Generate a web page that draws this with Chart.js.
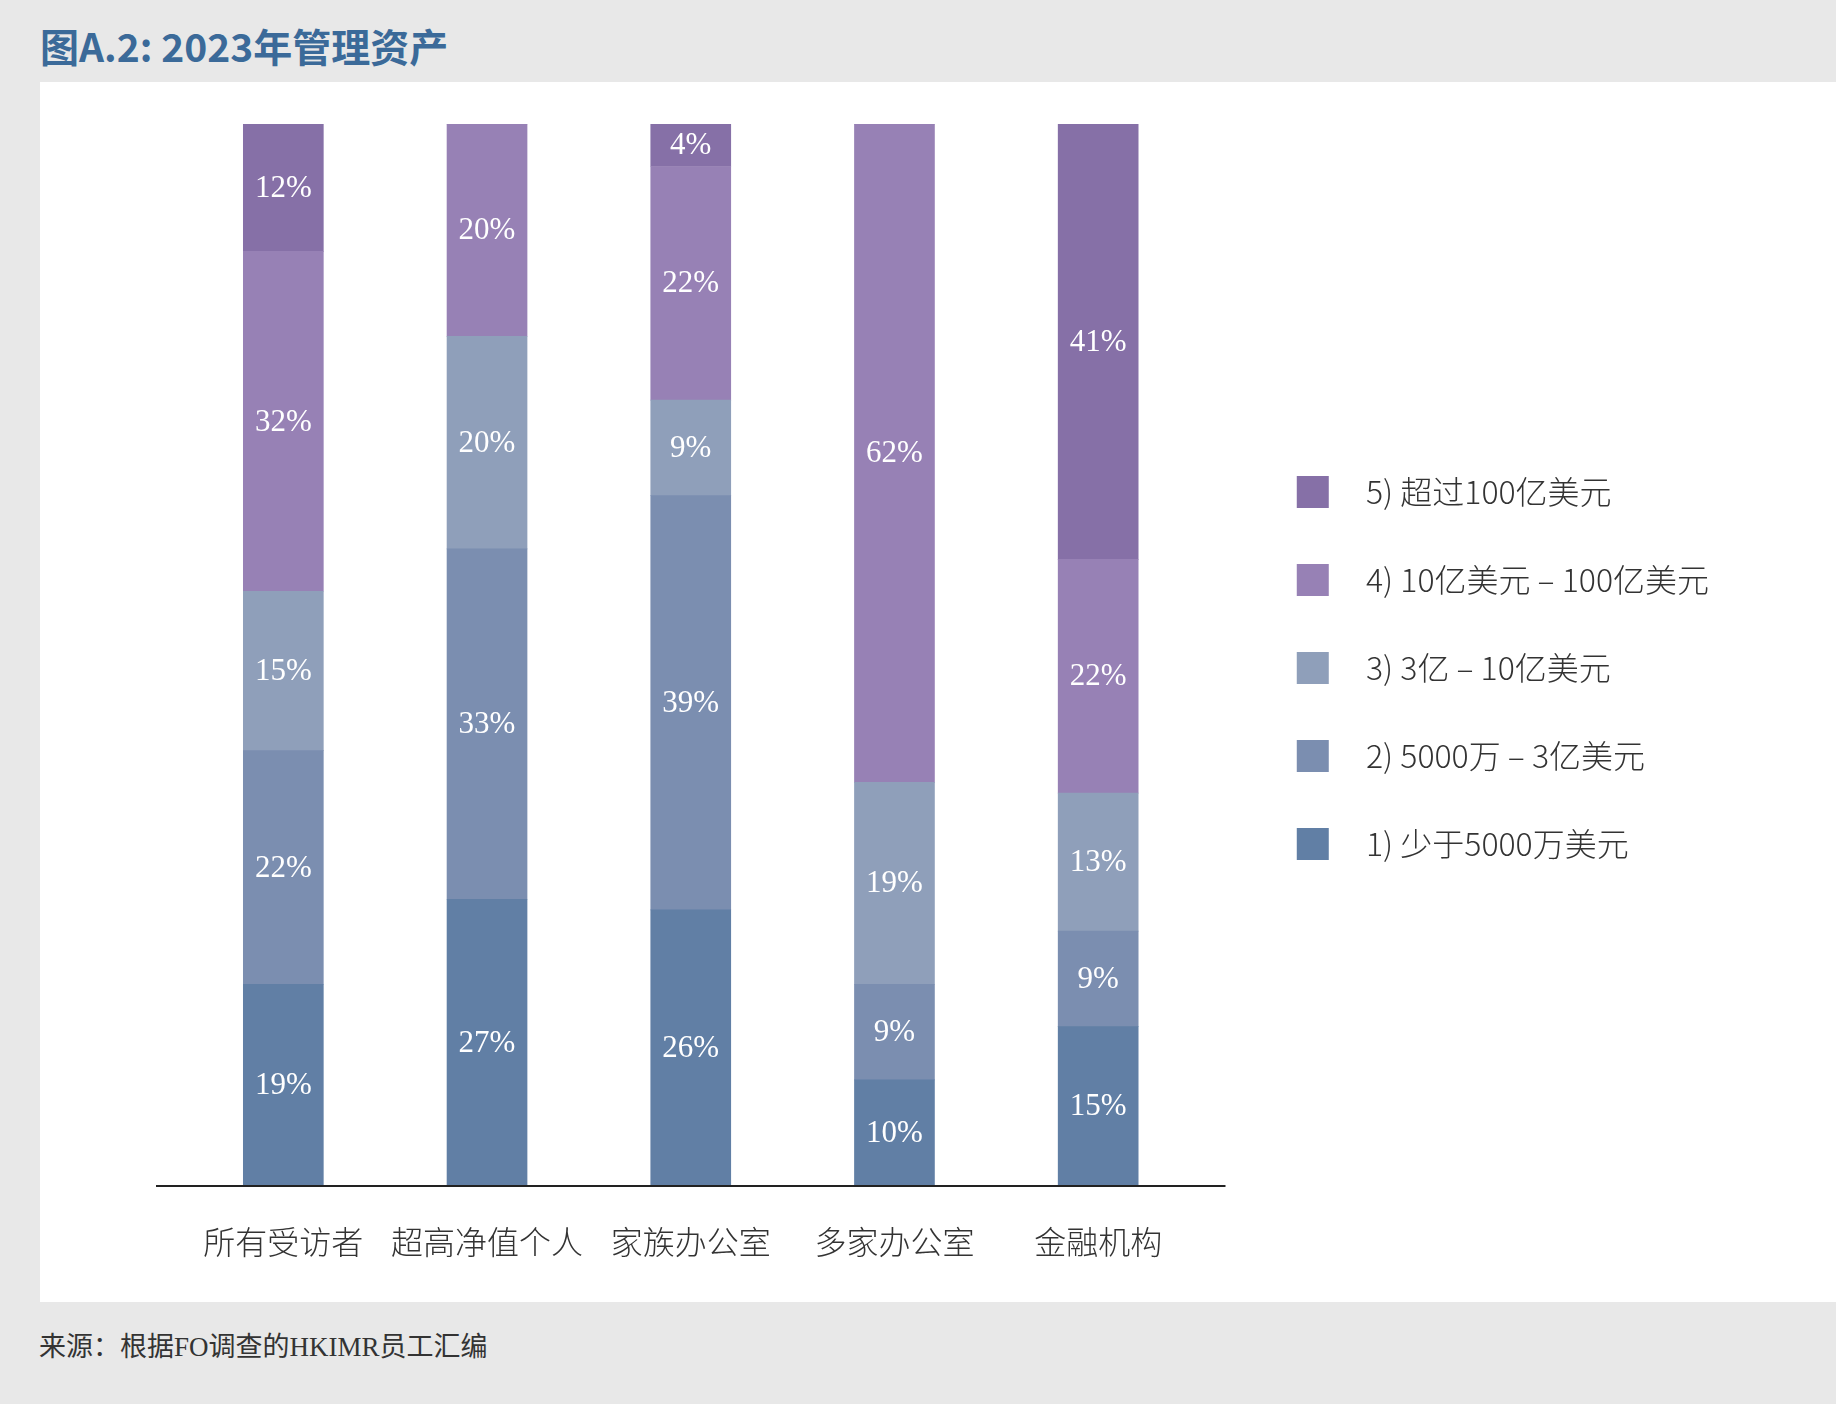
<!DOCTYPE html>
<html>
<head>
  <title>图A.2: 2023年管理资产</title>
  <script src="https://cdn.jsdelivr.net/npm/chart.js"></script>
  <style>
    body { margin: 0; width: 1836px; height: 1404px; background: #e8e8e8; position: relative; overflow: hidden; }
    h1 { position: absolute; left: 40px; top: 25px; margin: 0; font: bold 39px/40px "Noto Sans CJK SC", sans-serif; color: #3b6a99; }
    #panel { position: absolute; left: 40px; top: 82px; width: 1796px; height: 1220px; background: #fff; }
    #source { position: absolute; left: 39px; top: 1333px; font: 27px/28px "Liberation Serif", "Noto Sans CJK SC", serif; color: #333; }
  </style>
</head>
<body>
  <h1>图A.2: 2023年管理资产</h1>
  <div id="panel"><canvas id="chart" width="1796" height="1220"></canvas></div>
  <div id="source">来源：根据FO调查的HKIMR员工汇编</div>

  <script>
    const categories = ['所有受访者', '超高净值个人', '家族办公室', '多家办公室', '金融机构'];
    const seriesNames = ['1) 少于5000万美元', '2) 5000万 – 3亿美元', '3) 3亿 – 10亿美元', '4) 10亿美元 – 100亿美元', '5) 超过100亿美元'];
    const under50m = [19, 27, 26, 10, 15];
    const from50mTo300m = [22, 33, 39, 9, 9];
    const from300mTo1b = [15, 20, 9, 19, 13];
    const from1bTo10b = [32, 20, 22, 62, 22];
    const over10b = [12, 0, 4, 0, 41];
    const colors = ['#617fa5', '#7b8eb0', '#8f9fba', '#9781b5', '#8670a7'];

    const series = [under50m, from50mTo300m, from300mTo1b, from1bTo10b, over10b];

    // axis runs a bit past the outer bars, like the original
    const axisMin = -0.625, axisMax = 4.625;

    const segmentLabels = {
      id: 'segmentLabels',
      afterDatasetsDraw(chart) {
        const ctx = chart.ctx;
        ctx.save();
        ctx.fillStyle = '#fff';
        ctx.font = '31px "Liberation Serif", serif';
        ctx.textAlign = 'center';
        ctx.textBaseline = 'middle';
        chart.data.datasets.forEach((ds, i) => {
          chart.getDatasetMeta(i).data.forEach((bar, j) => {
            const v = ds.data[j].y;
            if (!v) return;
            ctx.fillText(v + '%', bar.x, (bar.y + bar.base) / 2 + 1);
          });
        });
        ctx.restore();
      }
    };

    const baseLine = {
      id: 'baseLine',
      afterDatasetsDraw(chart) {
        const ctx = chart.ctx;
        const x = chart.scales.x;
        const y = chart.chartArea.bottom;
        ctx.save();
        ctx.strokeStyle = '#222';
        ctx.lineWidth = 2;
        ctx.beginPath();
        ctx.moveTo(x.getPixelForValue(axisMin), y);
        ctx.lineTo(x.getPixelForValue(axisMax), y);
        ctx.stroke();
        ctx.restore();
      }
    };

    new Chart(document.getElementById('chart'), {
      type: 'bar',
      data: {
        datasets: series.map((values, i) => ({
          label: seriesNames[i],
          data: values.map((v, j) => ({ x: j, y: v })),
          backgroundColor: colors[i],
          barThickness: 80
        }))
      },
      options: {
        responsive: false,
        animation: false,
        layout: { autoPadding: false, padding: { left: 116, top: 42, right: 117, bottom: 0 } },
        scales: {
          x: {
            type: 'linear',
            stacked: true,
            offset: false,
            min: axisMin,
            max: 4.7,
            grid: { display: false, offset: false },
            border: { display: false },
            afterFit: s => { s.height = 116; },
            ticks: {
              stepSize: 1,
              includeBounds: false,
              autoSkip: false,
              maxRotation: 0,
              padding: 29,
              color: '#333',
              font: { family: '"Noto Sans CJK SC", sans-serif', size: 32, weight: 300 },
              callback: v => Number.isInteger(v) ? categories[v] : ''
            }
          },
          y: { stacked: true, min: 0, max: 100, display: false }
        },
        plugins: {
          tooltip: { enabled: false },
          legend: {
            position: 'right',
            fullSize: false,
            reverse: true,
            title: { display: true, text: '', font: { size: 10 }, padding: { top: 0, bottom: 14 } },
            labels: {
              boxWidth: 32,
              boxHeight: 32,
              padding: 56,
              color: '#333',
              font: { family: '"Noto Sans CJK SC", sans-serif', size: 32, weight: 300 },
              generateLabels: chart => Chart.defaults.plugins.legend.labels.generateLabels(chart)
                .map(l => Object.assign(l, { text: '   ' + l.text, lineWidth: 0 }))
            }
          }
        }
      },
      plugins: [segmentLabels, baseLine]
    });
  </script>
</body>
</html>
